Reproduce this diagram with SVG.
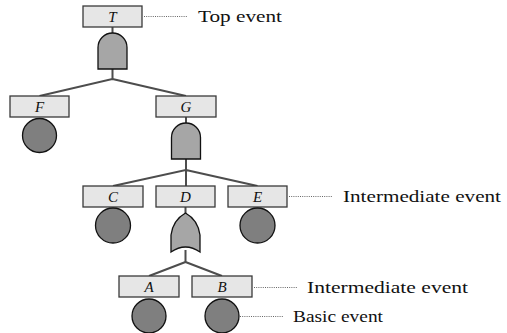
<svg xmlns="http://www.w3.org/2000/svg" width="507" height="333" viewBox="0 0 507 333">
<style>
.box{fill:#e6e6e6;stroke:#3a3a3a;stroke-width:1.3}
.gate{fill:#a6a6a6;stroke:#111;stroke-width:1.3}
.basic{fill:#7f7f7f;stroke:#111;stroke-width:1.3}
.edge{stroke:#4d4d4d;stroke-width:2;fill:none}
.dot{stroke:#666;stroke-width:1;stroke-dasharray:1 1.2;fill:none}
.lbl{font-style:italic;font-size:15px;fill:#111;text-anchor:middle}
.ann{font-size:17px;fill:#111}
</style>
<rect width="507" height="333" fill="#fff"/>
<g id="connectors">
<path class="edge" d="M112.5,27V33M112.5,69V79L39.5,96M112.5,79L186,96"/>
<path class="edge" d="M186,117V123M186,159V170L113,186M186,170V186M186,170L257.5,186"/>
<path class="edge" d="M185.5,207V215M185.5,250V262L149,276M185.5,262L222,276"/>
<path class="dot" d="M144,16.5H188M289,196.5H333M254,287.5H298M240,316.5H284"/>
</g>
<g font-family="Liberation Serif, DejaVu Serif, serif">
<g id="T"><rect class="box" x="83" y="6" width="59" height="21"/><text class="lbl" x="112.5" y="21.5">T</text></g>
<g id="gate-T"><path class="gate" d="M98,69V47.5A14.5,14.5 0 0 1 127,47.5V69Z"/></g>
<g id="F"><rect class="box" x="10" y="96" width="59" height="21"/><text class="lbl" x="39.5" y="111.5">F</text></g>
<g id="basic-F"><circle class="basic" cx="39.5" cy="135.5" r="17"/></g>
<g id="G"><rect class="box" x="156" y="96" width="60" height="21"/><text class="lbl" x="186" y="111.5">G</text></g>
<g id="gate-G"><path class="gate" d="M171.5,159V137.5A14.5,14.5 0 0 1 200.5,137.5V159Z"/></g>
<g id="C"><rect class="box" x="83" y="186" width="60" height="21"/><text class="lbl" x="113" y="201.5">C</text></g>
<g id="basic-C"><circle class="basic" cx="113" cy="225.5" r="17.5"/></g>
<g id="D"><rect class="box" x="156" y="186" width="59" height="21"/><text class="lbl" x="185.5" y="201.5">D</text></g>
<g id="gate-D"><path class="gate" d="M171,252Q185.5,242 200,252V235Q198,220 185.5,213Q173,220 171,235Z"/></g>
<g id="E"><rect class="box" x="228" y="186" width="59" height="21"/><text class="lbl" x="257.5" y="201.5">E</text></g>
<g id="basic-E"><circle class="basic" cx="257.5" cy="225.5" r="17.5"/></g>
<g id="A"><rect class="box" x="119" y="276" width="60" height="21"/><text class="lbl" x="149" y="291.5">A</text></g>
<g id="basic-A"><circle class="basic" cx="149" cy="316" r="17"/></g>
<g id="B"><rect class="box" x="192" y="276" width="60" height="21"/><text class="lbl" x="222" y="291.5">B</text></g>
<g id="basic-B"><circle class="basic" cx="222" cy="316" r="17"/></g>
<g id="annotations">
<text class="ann" x="198" y="22" textLength="84" lengthAdjust="spacingAndGlyphs">Top event</text>
<text class="ann" x="343" y="202" textLength="158" lengthAdjust="spacingAndGlyphs">Intermediate event</text>
<text class="ann" x="307" y="293" textLength="161" lengthAdjust="spacingAndGlyphs">Intermediate event</text>
<text class="ann" x="293" y="322" textLength="90" lengthAdjust="spacingAndGlyphs">Basic event</text>
</g>
</g>
</svg>
